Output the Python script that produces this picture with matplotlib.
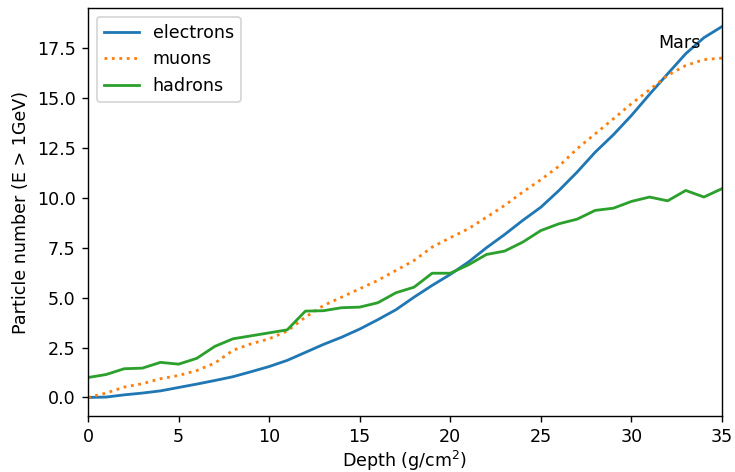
import matplotlib
matplotlib.use('Agg')
import matplotlib.pyplot as plt
import numpy as np

# particle counts above 1 GeV versus shielding depth, one value per g/cm^2
depth = np.arange(0, 36)

electrons = [0.0, 0.02, 0.13, 0.22, 0.33, 0.50, 0.67, 0.85, 1.04, 1.29,
             1.55, 1.86, 2.26, 2.66, 3.02, 3.43, 3.90, 4.40, 5.03, 5.62,
             6.17, 6.79, 7.51, 8.17, 8.88, 9.54, 10.38, 11.30, 12.30, 13.17,
             14.14, 15.20, 16.23, 17.24, 18.04, 18.60]
muons = [0.0, 0.22, 0.52, 0.69, 0.94, 1.10, 1.35, 1.72, 2.36, 2.69,
         2.94, 3.33, 4.03, 4.61, 5.03, 5.45, 5.87, 6.37, 6.87, 7.54,
         8.01, 8.46, 9.04, 9.63, 10.30, 10.92, 11.60, 12.47, 13.22, 13.97,
         14.73, 15.43, 16.15, 16.65, 16.94, 17.02]
hadrons = [1.0, 1.15, 1.44, 1.47, 1.76, 1.67, 1.96, 2.56, 2.94, 3.09,
           3.24, 3.39, 4.33, 4.35, 4.50, 4.53, 4.75, 5.25, 5.53, 6.23,
           6.23, 6.65, 7.17, 7.34, 7.79, 8.37, 8.71, 8.94, 9.38, 9.49,
           9.83, 10.05, 9.86, 10.38, 10.05, 10.47]

dpi = 126
fig = plt.figure(figsize=(735 / dpi, 472 / dpi), dpi=dpi)
ax = fig.add_axes([88 / 735, 56 / 472, 634 / 735, 408 / 472])

ax.plot(depth, electrons, label='electrons', linewidth=1.6)
ax.plot(depth, muons, ':', label='muons', linewidth=1.6)
ax.plot(depth, hadrons, label='hadrons', linewidth=1.6)
ax.text(31.5, 17.5, 'Mars')

ax.set_xlim(0, 35)
ax.set_xlabel('Depth (g/cm$^2$)', labelpad=1.5)
ax.set_ylabel('Particle number (E > 1GeV)')
ax.legend(loc='upper left')

fig.savefig('out.png', dpi=dpi)
